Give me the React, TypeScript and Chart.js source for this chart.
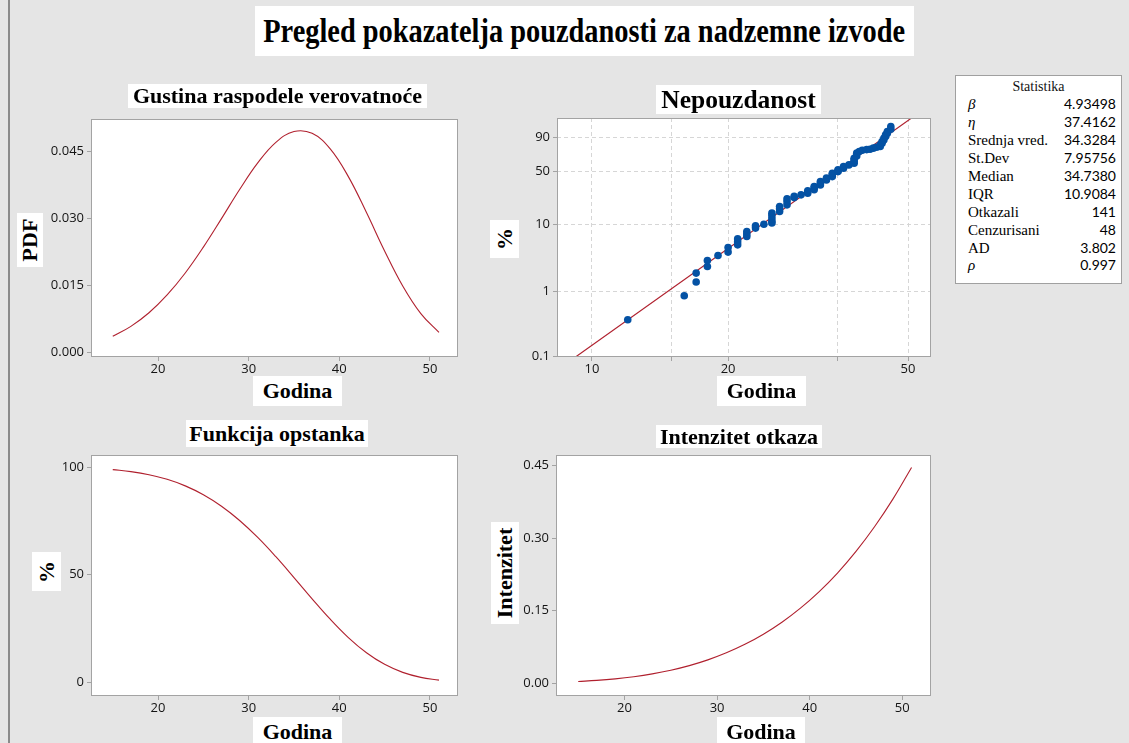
import React, { useEffect, useRef } from 'react';
import { Chart, registerables, Scale } from 'chart.js';

// ---------------- data ----------------
const YEARS = [15, 17, 19, 21, 23, 25, 27, 29, 31, 33, 35, 37, 39, 41, 43, 45, 47, 49, 51];
const PDF_VALUES = [0.00358, 0.0058, 0.00885, 0.01283, 0.01775, 0.02354, 0.02991, 0.03642, 0.04238, 0.04698, 0.0494, 0.04899, 0.04552, 0.03931, 0.03127, 0.02269, 0.01485, 0.00866, 0.00444];
const SURVIVAL_PCT = [98.91, 97.98, 96.53, 94.38, 91.34, 87.22, 81.88, 75.25, 67.35, 58.39, 48.71, 38.82, 29.32, 20.79, 13.72, 8.32, 4.59, 2.27, 0.99];
const HAZARD_VALUES = [0.00362, 0.00592, 0.00917, 0.01359, 0.01944, 0.02699, 0.03653, 0.04839, 0.06292, 0.08046, 0.10143, 0.12622, 0.15527, 0.18904, 0.22801, 0.27267, 0.32356, 0.38122, 0.44621];

const FAIL_AGE = [12, 16, 17, 17, 18, 18, 19, 20, 20, 21, 21, 21, 22, 22, 22, 23, 23, 24, 25, 25, 25, 25, 25, 26, 26, 26, 27, 27, 27, 28, 28, 29, 30, 30, 31, 31, 31, 32, 32, 32, 33, 33, 34, 34, 34, 35, 35, 35, 36, 36, 37, 38, 38, 38, 38, 38.5, 38.5, 39, 39.6, 40.5, 41.2, 41.9, 42.6, 43.4, 43.4, 43.8, 43.8, 44.2, 44.2, 44.6, 44.6, 45, 45, 45.8, 45.8];
const FAIL_PCT = [0.365, 0.852, 1.38, 1.89, 2.38, 2.93, 3.49, 3.93, 4.61, 5.05, 5.6, 6.2, 6.72, 7.3, 7.96, 8.94, 9.65, 10.2, 10.6, 11.15, 12.2, 13.5, 14.7, 15.5, 16.9, 18.2, 19.2, 21.3, 23.2, 24.1, 25.0, 26.2, 27.5, 29.5, 30.5, 32.0, 33.5, 35.1, 36.8, 38.5, 40.3, 42.2, 44.0, 46.0, 48.0, 49.9, 50.8, 52.0, 54.2, 56.2, 58.4, 60.6, 62.5, 64.9, 67.1, 70.0, 73.5, 75.4, 77.0, 77.8, 78.3, 79.5, 80.5, 81.3, 83.1, 84.9, 86.5, 88.0, 89.5, 90.8, 92.1, 93.2, 94.2, 95.5, 96.65];
const FIT_LINE_AGE = [9.23, 50.9];
const FIT_LINE_PCT = [0.1, 99];

const LIN_X_TICKS = [20, 30, 40, 50];
const PDF_TICKS = [0, 0.015, 0.03, 0.045];
const SURV_TICKS = [0, 50, 100];
const HAZ_TICKS = [0, 0.15, 0.3, 0.45];
const LOG_X_TICKS = [10, 15, 20, 35, 50];
const LOG_X_LABELED = [10, 20, 50];
const PROB_Y_TICKS = [0.1, 1, 10, 50, 90];

const STAT_LABELS = ['β', 'η', 'Srednja vred.', 'St.Dev', 'Median', 'IQR', 'Otkazali', 'Cenzurisani', 'AD', 'ρ'];
const STAT_VALUES = ['4.93498', '37.4162', '34.3284', '7.95756', '34.7380', '10.9084', '141', '48', '3.802', '0.997'];
const STAT_ITALIC = [true, true, false, false, false, false, false, false, false, true];

// ---------------- custom Weibull probability scale ----------------
const weibit = (pct: number) => Math.log(-Math.log(1 - pct / 100));
const unweibit = (w: number) => 100 * (1 - Math.exp(-Math.exp(w)));

class WeibullProbabilityScale extends Scale {
  static id = 'weibullProbability';
  static defaults = {};
  determineDataLimits() {
    this.min = this.options.min;
    this.max = this.options.max;
  }
  buildTicks() {
    return PROB_Y_TICKS.map((v) => ({ value: v }));
  }
  getLabelForValue(v: number) {
    return String(v);
  }
  configure() {
    super.configure();
    this._wMin = weibit(this.min);
    this._wMax = weibit(this.max);
  }
  getPixelForValue(v: number) {
    return this.getPixelForDecimal((weibit(v) - this._wMin) / (this._wMax - this._wMin));
  }
  getValueForPixel(p: number) {
    return unweibit(this._wMin + this.getDecimalForPixel(p) * (this._wMax - this._wMin));
  }
}

Chart.register(...registerables, WeibullProbabilityScale);

// ---------------- layout helpers ----------------
const PAD_T = 15;
const PAD_R = 14;
const Y_W = 62;
const X_H = 30;
const LINE_RED = '#b0202e';
const FRAME = '#a3a3a3';
const TICK_FONT = { family: 'Open Sans', size: 13 };
const TICK_COLOR = '#141414';

type Rect = { l: number; t: number; r: number; b: number };

const framePlugin = {
  id: 'frameBox',
  beforeDraw(chart: any) {
    const { ctx, chartArea: a } = chart;
    ctx.save();
    ctx.fillStyle = '#ffffff';
    ctx.fillRect(a.left, a.top, a.right - a.left, a.bottom - a.top);
    ctx.restore();
  },
  afterDraw(chart: any) {
    const { ctx, chartArea: a } = chart;
    ctx.save();
    ctx.strokeStyle = FRAME;
    ctx.lineWidth = 1;
    ctx.strokeRect(Math.round(a.left) + 0.5, Math.round(a.top) + 0.5, Math.round(a.right - a.left) - 1, Math.round(a.bottom - a.top) - 1);
    ctx.restore();
  },
};

function fitAxis(axis: 'x' | 'y') {
  return (s: any) => {
    if (axis === 'y') s.width = Y_W;
    else s.height = X_H;
  };
}

function linearAxis(axis: 'x' | 'y', min: number, max: number, ticks: number[], fmt: (v: number) => string) {
  return {
    type: 'linear',
    bounds: 'data',
    min,
    max,
    afterBuildTicks: (s: any) => {
      s.ticks = ticks.map((v) => ({ value: v }));
    },
    afterFit: fitAxis(axis),
    border: { display: false },
    grid: { drawOnChartArea: false, drawTicks: true, tickLength: 4, tickColor: FRAME, color: FRAME },
    ticks: {
      callback: (v: number) => fmt(v),
      color: TICK_COLOR,
      font: TICK_FONT,
      padding: axis === 'y' ? 3 : 0,
      maxRotation: 0,
      autoSkip: false,
    },
  };
}

function baseOptions(scales: any) {
  return {
    responsive: false,
    maintainAspectRatio: false,
    animation: false,
    devicePixelRatio: 1,
    layout: { padding: { top: PAD_T, right: PAD_R, left: 0, bottom: 0 } },
    plugins: { legend: { display: false }, tooltip: { enabled: false }, title: { display: false } },
    scales,
  };
}

function curveConfig(values: number[], yMin: number, yMax: number, yTicks: number[], fmt: (v: number) => string) {
  return {
    type: 'scatter',
    data: {
      datasets: [
        {
          data: YEARS.map((x, i) => ({ x, y: values[i] })),
          showLine: true,
          borderColor: LINE_RED,
          borderWidth: 1.1,
          pointRadius: 0,
          tension: 0.4,
        },
      ],
    },
    options: baseOptions({
      x: linearAxis('x', 12.6, 53.1, LIN_X_TICKS, (v) => String(v)),
      y: linearAxis('y', yMin, yMax, yTicks, fmt),
    }),
    plugins: [framePlugin],
  };
}

function probabilityConfig() {
  return {
    type: 'scatter',
    data: {
      datasets: [
        {
          data: FAIL_AGE.map((x, i) => ({ x, y: FAIL_PCT[i] })),
          backgroundColor: '#0452a4',
          borderColor: '#0452a4',
          borderWidth: 0,
          pointRadius: 3.8,
        },
        {
          data: FIT_LINE_AGE.map((x, i) => ({ x, y: FIT_LINE_PCT[i] })),
          showLine: true,
          borderColor: LINE_RED,
          borderWidth: 1.1,
          pointRadius: 0,
        },
      ],
    },
    options: baseOptions({
      x: {
        type: 'logarithmic',
        bounds: 'data',
        min: 8.37,
        max: 56.2,
        afterBuildTicks: (s: any) => {
          s.ticks = LOG_X_TICKS.map((v) => ({ value: v }));
        },
        afterFit: fitAxis('x'),
        border: { display: false, dash: [4, 3] },
        grid: { drawOnChartArea: true, color: '#d6d6d6', tickLength: 4, tickColor: FRAME },
        ticks: {
          callback: (v: number) => (LOG_X_LABELED.includes(v) ? String(v) : ''),
          color: TICK_COLOR,
          font: TICK_FONT,
          padding: 0,
          maxRotation: 0,
          autoSkip: false,
        },
      },
      y: {
        type: 'weibullProbability',
        min: 0.098,
        max: 99,
        afterFit: fitAxis('y'),
        border: { display: false, dash: [4, 3] },
        grid: { drawOnChartArea: true, color: '#d6d6d6', tickLength: 4, tickColor: FRAME },
        ticks: {
          callback: (v: number) => String(v),
          color: TICK_COLOR,
          font: TICK_FONT,
          padding: 3,
          autoSkip: false,
        },
      },
    }),
    plugins: [framePlugin],
  };
}

function ChartPanel({ plot, build }: { plot: Rect; build: () => any }) {
  const ref = useRef<HTMLCanvasElement>(null);
  const left = plot.l - Y_W;
  const top = plot.t - PAD_T;
  const width = plot.r + PAD_R - left;
  const height = plot.b + X_H - top;
  useEffect(() => {
    const chart = new Chart(ref.current as HTMLCanvasElement, build());
    return () => chart.destroy();
  }, []);
  return (
    <canvas
      ref={ref}
      width={width}
      height={height}
      style={{ position: 'absolute', left, top, width, height }}
    />
  );
}

function TextBox({ r, text, size = 22, scaleX = 1, rotate = false }: { r: Rect; text: string; size?: number; scaleX?: number; rotate?: boolean }) {
  const tf = rotate ? 'rotate(-90deg)' : `scaleX(${scaleX})`;
  return (
    <div
      style={{
        position: 'absolute',
        left: r.l,
        top: r.t,
        width: r.r - r.l,
        height: r.b - r.t,
        background: '#ffffff',
        display: 'flex',
        alignItems: 'center',
        justifyContent: 'center',
        overflow: 'visible',
      }}
    >
      <span
        style={{
          fontFamily: '"Liberation Serif", "Times New Roman", serif',
          fontWeight: 700,
          fontSize: size,
          lineHeight: 1,
          whiteSpace: 'nowrap',
          color: '#000',
          transform: tf,
          display: 'inline-block',
        }}
      >
        {text}
      </span>
    </div>
  );
}

function StatsTable() {
  const box = { l: 955, t: 75, r: 1122, b: 284 };
  return (
    <div
      style={{
        position: 'absolute',
        left: box.l,
        top: box.t,
        width: box.r - box.l,
        height: box.b - box.t,
        background: '#fff',
        border: '1px solid #a0a0a0',
        boxSizing: 'border-box',
      }}
    >
      <div
        style={{
          position: 'absolute',
          left: 0,
          right: 0,
          top: 2,
          height: 17,
          lineHeight: '17px',
          textAlign: 'center',
          fontFamily: '"Liberation Serif", serif',
          fontSize: 14,
          color: '#111',
        }}
      >
        Statistika
      </div>
      {STAT_LABELS.map((lab, i) => (
        <div
          key={lab}
          style={{
            position: 'absolute',
            left: 12,
            right: 5,
            top: 19.3 + i * 17.9,
            height: 18,
            lineHeight: '18px',
            display: 'flex',
            justifyContent: 'space-between',
            color: '#000',
          }}
        >
          <span
            style={{
              fontFamily: '"Liberation Serif", serif',
              fontSize: 15,
              fontStyle: STAT_ITALIC[i] ? 'italic' : 'normal',
            }}
          >
            {lab}
          </span>
          <span style={{ fontFamily: 'Lato, "Open Sans", sans-serif', fontSize: 14 }}>{STAT_VALUES[i]}</span>
        </div>
      ))}
    </div>
  );
}

export default function App() {
  return (
    <div
      style={{
        position: 'fixed',
        left: 0,
        top: 0,
        width: 1129,
        height: 743,
        background: '#e5e5e5',
        overflow: 'hidden',
      }}
    >
      <div style={{ position: 'absolute', left: 8, top: 0, width: 2, height: 743, background: '#8a8a8a' }} />

      <ChartPanel
        plot={{ l: 91, t: 119, r: 458, b: 357 }}
        build={() => curveConfig(PDF_VALUES, -0.00105, 0.0522, PDF_TICKS, (v) => v.toFixed(3))}
      />
      <ChartPanel plot={{ l: 557, t: 118, r: 931, b: 357 }} build={probabilityConfig} />
      <ChartPanel
        plot={{ l: 91, t: 455, r: 458, b: 696 }}
        build={() => curveConfig(SURVIVAL_PCT, -6.4, 105.7, SURV_TICKS, (v) => String(v))}
      />
      <ChartPanel
        plot={{ l: 556, t: 455, r: 931, b: 696 }}
        build={() => curveConfig(HAZARD_VALUES, -0.0263, 0.472, HAZ_TICKS, (v) => v.toFixed(2))}
      />

      <TextBox r={{ l: 255, t: 6, r: 914, b: 56 }} text="Pregled pokazatelja pouzdanosti za nadzemne izvode" size={33} scaleX={0.86} />

      <TextBox r={{ l: 128, t: 84, r: 427, b: 108 }} text="Gustina raspodele verovatnoće" />
      <TextBox r={{ l: 656, t: 85, r: 821, b: 114 }} text="Nepouzdanost" size={25.5} />
      <TextBox r={{ l: 186, t: 420, r: 368, b: 447 }} text="Funkcija opstanka" />
      <TextBox r={{ l: 656, t: 425, r: 822, b: 448 }} text="Intenzitet otkaza" />

      <TextBox r={{ l: 17, t: 213, r: 43, b: 267 }} text="PDF" rotate />
      <TextBox r={{ l: 253, t: 376, r: 342, b: 406 }} text="Godina" />
      <TextBox r={{ l: 490, t: 220, r: 519, b: 258 }} text="%" rotate />
      <TextBox r={{ l: 717, t: 376, r: 806, b: 406 }} text="Godina" />
      <TextBox r={{ l: 32, t: 552, r: 61, b: 591 }} text="%" rotate />
      <TextBox r={{ l: 253, t: 717, r: 342, b: 747 }} text="Godina" />
      <TextBox r={{ l: 491, t: 522, r: 519, b: 624 }} text="Intenzitet" rotate />
      <TextBox r={{ l: 717, t: 717, r: 805, b: 747 }} text="Godina" />

      <StatsTable />
    </div>
  );
}
